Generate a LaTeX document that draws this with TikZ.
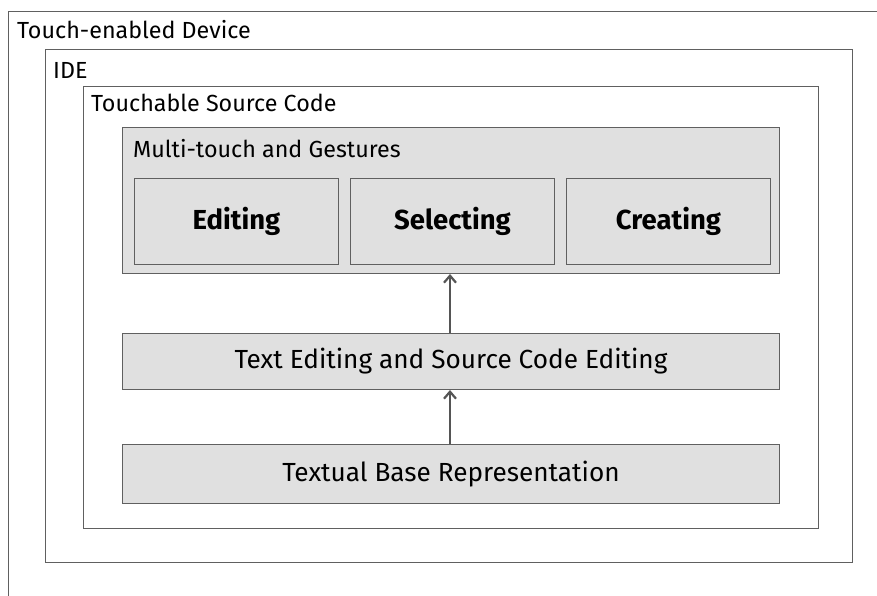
\documentclass[tikz,border=0pt]{standalone}
\usepackage{fontspec}
\setmainfont{Fira Sans}
\usetikzlibrary{arrows.meta}
\definecolor{boxfill}{HTML}{E0E0E0}
\definecolor{boxline}{HTML}{606060}
\definecolor{arrowline}{HTML}{555555}
\tikzset{
  frame/.style={draw=boxline, line width=1pt, fill=white, anchor=north west, inner sep=0pt},
  graybox/.style={draw=boxline, line width=1pt, fill=boxfill, anchor=north west, inner sep=0pt},
  caption/.style={anchor=base west, inner sep=0pt, font=\fontsize{23.3}{27}\selectfont},
  gesture/.style={graybox, minimum width=204pt, minimum height=86pt, font=\fontsize{27.5}{31}\selectfont\bfseries},
  layer/.style={graybox, minimum width=657pt, font=\fontsize{26.2}{30}\selectfont},
  flow/.style={draw=arrowline, line width=2.6pt, -{Straight Barb[length=7pt,width=12pt,line width=2.2pt]}}
}
\begin{document}
\begin{tikzpicture}[x=1pt,y=-1pt]
\useasboundingbox[fill=white] (0,0) rectangle (877,595);
% nested frames (the outermost one runs past the page edges)
\node[frame, minimum width=900pt, minimum height=620pt] (device) at (8,11) {};
\node[caption] (devicelbl) at (17,38) {Touch-enabled Device};
\node[frame, minimum width=807pt, minimum height=513pt] (ide) at (45,49) {};
\node[caption] (idelbl) at (53,78) {IDE};
\node[frame, minimum width=735pt, minimum height=442pt] (tsc) at (83,86) {};
\node[caption] (tsclbl) at (91,111) {Touchable Source Code};
% gestures layer
\node[graybox, minimum width=657pt, minimum height=146pt] (mtg) at (122,127) {};
\node[caption] (mtglbl) at (133,157) {Multi-touch and Gestures};
\node[gesture] (edit) at (134,178) {Editing};
\node[gesture] (select) at (350,178) {Selecting};
\node[gesture] (create) at (566,178) {Creating};
% lower layers
\node[layer, minimum height=56pt] (texted) at (122,333) {Text Editing and Source Code Editing};
\node[layer, minimum height=59pt] (base) at (122,444) {Textual Base Representation};
% connectors
\draw[flow] (base.north -| 450,0) -- (texted.south -| 450,0);
\draw[flow] (texted.north -| 450,0) -- (mtg.south -| 450,0);
\end{tikzpicture}
\end{document}
